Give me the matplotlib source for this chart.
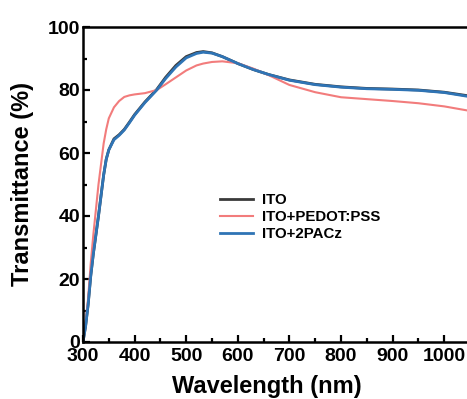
import numpy as np
import matplotlib
matplotlib.use('Agg')
import matplotlib.pyplot as plt
from matplotlib.ticker import MultipleLocator, FixedLocator

plt.rcParams['font.family'] = ['Liberation Sans', 'DejaVu Sans']
plt.rcParams['font.weight'] = 'bold'

# wavelength grid (nm) and transmittance (%)
wl = [300, 305, 310, 315, 320, 330, 340, 345, 350, 360, 370, 380, 390, 400,
      420, 443, 460, 480, 500, 520, 533, 550, 570, 600, 630, 660, 700, 750,
      800, 850, 900, 950, 1000, 1045]
ito = [0, 5, 12, 21, 28, 40, 53, 58, 61, 64.5, 65.8, 67.5, 69.8, 72.2,
       76.2, 80.2, 84.0, 87.8, 90.6, 91.9, 92.2, 91.8, 90.6, 88.4, 86.5, 84.9, 83.2, 81.8,
       81.0, 80.5, 80.3, 80.0, 79.3, 78.2]
pacz = [0, 5, 12, 21, 28, 40, 53, 58, 61, 64.2, 65.6, 67.3, 69.6, 72.0,
        76.0, 80.0, 83.6, 87.3, 90.2, 91.6, 92.0, 91.7, 90.6, 88.4, 86.5, 84.9, 83.1, 81.7,
        80.9, 80.4, 80.2, 79.9, 79.2, 78.0]
pedot = [0, 6, 14, 25, 34, 50, 63, 67.5, 71, 74.5, 76.5, 77.8, 78.3, 78.6,
         79.0, 80.0, 81.8, 84.0, 86.2, 87.8, 88.4, 88.9, 89.1, 88.5, 86.8, 84.7, 81.6, 79.3,
         77.7, 77.1, 76.5, 75.8, 74.8, 73.5]
xticks = [300, 400, 500, 600, 700, 800, 900, 1000]

fig = plt.figure(figsize=(4.67, 3.99), dpi=100)
ax = fig.add_axes([83 / 467, 57 / 399, (1100 - 300) * 0.516 / 467, 315 / 399])

ax.plot(wl, ito, color='#3a3a3a', lw=2.0, label='ITO')
ax.plot(wl, pedot, color='#f27c7c', lw=1.5, label='ITO+PEDOT:PSS')
ax.plot(wl, pacz, color='#2f74b5', lw=2.0, label='ITO+2PACz')

ax.set_xlim(300, 1100)
ax.set_ylim(0, 100)
ax.xaxis.set_major_locator(FixedLocator(xticks))
ax.xaxis.set_minor_locator(MultipleLocator(50))
ax.yaxis.set_major_locator(MultipleLocator(20))
ax.yaxis.set_minor_locator(MultipleLocator(10))
ax.tick_params(which='both', direction='in', width=1.6, labelsize=14)
ax.tick_params(which='major', length=5)
ax.tick_params(which='minor', length=3)
ax.tick_params(axis='x', which='both', pad=4)
ax.tick_params(axis='y', which='both', pad=2)
for s in ax.spines.values():
    s.set_linewidth(1.8)

ax.set_xlabel('Wavelength (nm)', fontsize=17, fontweight='bold')
ax.xaxis.set_label_coords(0.446, -0.105, transform=ax.transAxes)
ax.xaxis.label.set_va('top')
ax.set_ylabel('Transmittance (%)', fontsize=17, fontweight='bold', labelpad=10)

ax.legend(loc='upper left', bbox_to_anchor=(0.3, 0.515), frameon=False, fontsize=10.8,
          handlelength=2.2, handletextpad=0.6, labelspacing=0.2)

fig.savefig('out.png', dpi=100)
